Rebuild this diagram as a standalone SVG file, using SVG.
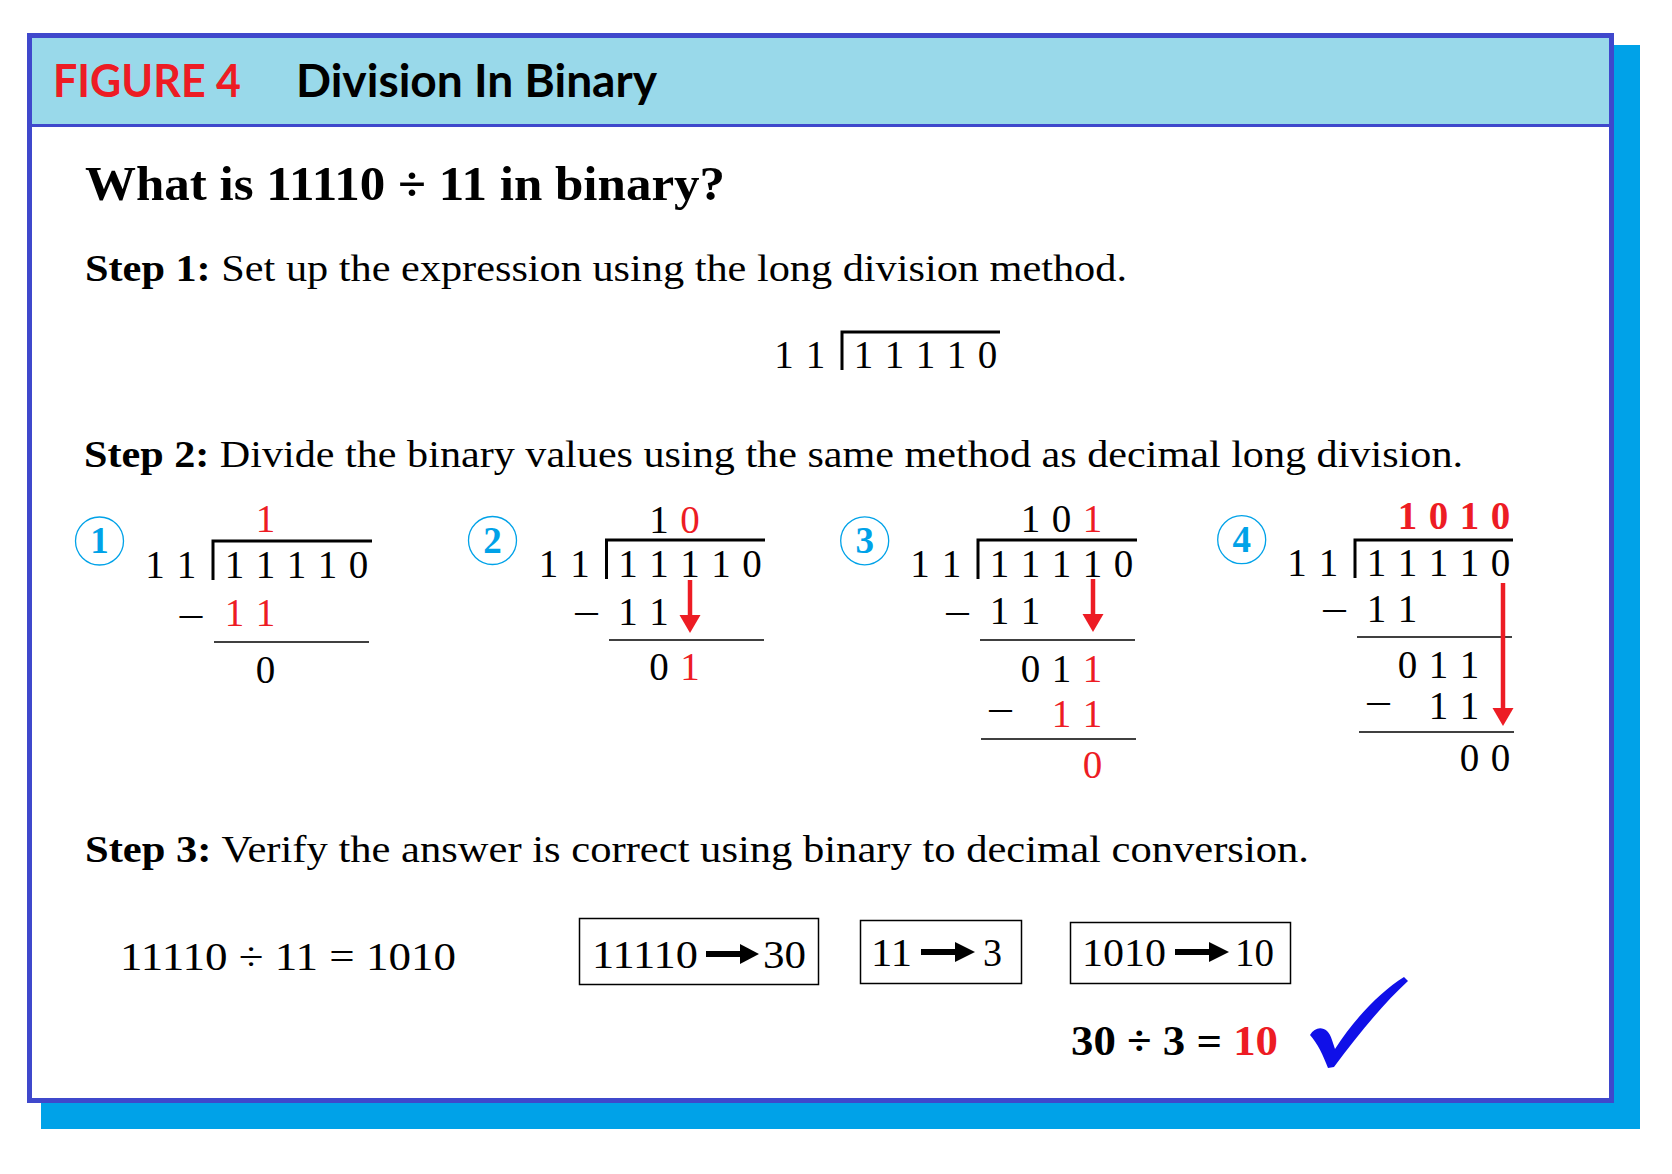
<svg xmlns="http://www.w3.org/2000/svg" width="1672" height="1174" viewBox="0 0 1672 1174">
<defs>
<style>
.s{font-family:'Liberation Serif','Times New Roman',serif;}
.h{font-family:Lato,'Liberation Sans',Arial,sans-serif;font-weight:bold;}
.d{font-family:'Liberation Serif','Times New Roman',serif;font-size:39px;text-anchor:middle;fill:#000;}
.m{font-family:'Liberation Serif','Times New Roman',serif;font-size:39px;text-anchor:middle;fill:#000;}
.r{fill:#ED1C24;}
.rb{fill:#ED1C24;font-weight:bold;}
.st{font-family:'Liberation Serif','Times New Roman',serif;font-size:38px;fill:#000;}
.num{font-family:'Liberation Serif','Times New Roman',serif;font-size:37px;font-weight:bold;fill:#00A2E8;text-anchor:middle;}
.circ{fill:none;stroke:#00A2E8;stroke-width:1.3;}
.bar{stroke:#000;stroke-width:3;fill:none;}
.rule{stroke:#000;stroke-width:1.3;fill:none;}
.box{fill:#fff;stroke:#000;stroke-width:1.5;}
.red-shaft{stroke:#ED1C24;stroke-width:4.5;fill:none;}
.red-head{fill:#ED1C24;}
.blk-shaft{stroke:#000;stroke-width:6;fill:none;}
.blk-head{fill:#000;}
</style>
</defs>

<g id="frame">
<rect x="41" y="45" width="1599" height="1084" fill="#00A2E8"/>
<rect x="29.5" y="35.5" width="1582" height="1065" fill="#fff" stroke="#3F48CC" stroke-width="5"/>
<rect x="32" y="38" width="1577" height="86" fill="#99D9EA"/>
<line x1="32" y1="125.5" x2="1609" y2="125.5" stroke="#3F48CC" stroke-width="3"/>
</g>

<g id="header">
<text class="h" x="53" y="97" font-size="46" fill="#ED1C24" textLength="188" lengthAdjust="spacingAndGlyphs">FIGURE 4</text>
<text class="h" x="296" y="97" font-size="46" fill="#000" textLength="361" lengthAdjust="spacingAndGlyphs">Division In Binary</text>
</g>

<g id="question">
<text class="s" x="85" y="200" font-size="48" font-weight="bold" fill="#000" textLength="640" lengthAdjust="spacingAndGlyphs">What is 11110 ÷ 11 in binary?</text>
</g>

<g id="step1">
<text class="st" x="85" y="281" textLength="1042" lengthAdjust="spacingAndGlyphs"><tspan font-weight="bold">Step 1:</tspan> Set up the expression using the long division method.</text>
</g>

<g id="setup">
<text class="d" x="784" y="368">1</text>
<text class="d" x="815.5" y="368">1</text>
<path class="bar" d="M842 370 V332 H1000"/>
<text class="d" x="863.5" y="368">1</text>
<text class="d" x="894.5" y="368">1</text>
<text class="d" x="925.5" y="368">1</text>
<text class="d" x="956.5" y="368">1</text>
<text class="d" x="987.5" y="368">0</text>
</g>

<g id="step2">
<text class="st" x="84" y="467" textLength="1379" lengthAdjust="spacingAndGlyphs"><tspan font-weight="bold">Step 2:</tspan> Divide the binary values using the same method as decimal long division.</text>
</g>

<!-- Panel 1 -->
<g id="panel1">
<circle class="circ" cx="99.5" cy="541" r="24"/>
<text class="num" x="99.5" y="553">1</text>
<text class="d r" x="265.5" y="532">1</text>
<text class="d" x="155" y="578">1</text>
<text class="d" x="186.5" y="578">1</text>
<path class="bar" d="M213 580 V541 H372"/>
<text class="d" x="234.5" y="578">1</text>
<text class="d" x="265.5" y="578">1</text>
<text class="d" x="296.5" y="578">1</text>
<text class="d" x="327.5" y="578">1</text>
<text class="d" x="358.5" y="578">0</text>
<text class="m" x="191" y="630" textLength="28" lengthAdjust="spacingAndGlyphs">−</text>
<text class="d r" x="234.5" y="626">1</text>
<text class="d r" x="265.5" y="626">1</text>
<line class="rule" x1="214" y1="642" x2="369" y2="642"/>
<text class="d" x="265.5" y="683">0</text>
</g>

<!-- Panel 2 -->
<g id="panel2">
<circle class="circ" cx="492.5" cy="540.5" r="24"/>
<text class="num" x="492.5" y="553">2</text>
<text class="d" x="659" y="533">1</text>
<text class="d r" x="690" y="533">0</text>
<text class="d" x="548.5" y="577">1</text>
<text class="d" x="580" y="577">1</text>
<path class="bar" d="M606.5 579 V540 H765"/>
<text class="d" x="628" y="577">1</text>
<text class="d" x="659" y="577">1</text>
<text class="d" x="690" y="577">1</text>
<text class="d" x="721" y="577">1</text>
<text class="d" x="752" y="577">0</text>
<text class="m" x="586.5" y="627" textLength="28" lengthAdjust="spacingAndGlyphs">−</text>
<text class="d" x="628" y="625">1</text>
<text class="d" x="659" y="625">1</text>
<line class="rule" x1="609" y1="640" x2="764" y2="640"/>
<text class="d" x="659" y="680">0</text>
<text class="d r" x="690" y="680">1</text>
</g>

<!-- Panel 3 -->
<g id="panel3">
<circle class="circ" cx="864.7" cy="540.8" r="24"/>
<text class="num" x="864.7" y="553">3</text>
<text class="d" x="1030.5" y="532">1</text>
<text class="d" x="1061.5" y="532">0</text>
<text class="d r" x="1092.5" y="532">1</text>
<text class="d" x="920" y="577">1</text>
<text class="d" x="951.5" y="577">1</text>
<path class="bar" d="M978 579 V540 H1137"/>
<text class="d" x="999.5" y="577">1</text>
<text class="d" x="1030.5" y="577">1</text>
<text class="d" x="1061.5" y="577">1</text>
<text class="d" x="1092.5" y="577">1</text>
<text class="d" x="1123.5" y="577">0</text>
<text class="m" x="957.5" y="627" textLength="28" lengthAdjust="spacingAndGlyphs">−</text>
<text class="d" x="999.5" y="624">1</text>
<text class="d" x="1030.5" y="624">1</text>
<line class="rule" x1="980" y1="640" x2="1135" y2="640"/>
<text class="d" x="1030.5" y="682">0</text>
<text class="d" x="1061.5" y="682">1</text>
<text class="d r" x="1092.5" y="682">1</text>
<text class="m" x="1000.5" y="724" textLength="28" lengthAdjust="spacingAndGlyphs">−</text>
<text class="d r" x="1061.5" y="727">1</text>
<text class="d r" x="1092.5" y="727">1</text>
<line class="rule" x1="981" y1="739" x2="1136" y2="739"/>
<text class="d r" x="1092.5" y="778">0</text>
</g>

<!-- Panel 4 -->
<g id="panel4">
<circle class="circ" cx="1241.7" cy="539.7" r="24"/>
<text class="num" x="1241.7" y="552">4</text>
<text class="d rb" x="1407.5" y="529">1</text>
<text class="d rb" x="1438.5" y="529">0</text>
<text class="d rb" x="1469.5" y="529">1</text>
<text class="d rb" x="1500.5" y="529">0</text>
<text class="d" x="1297" y="576">1</text>
<text class="d" x="1328.5" y="576">1</text>
<path class="bar" d="M1355 578 V540 H1513"/>
<text class="d" x="1376.5" y="576">1</text>
<text class="d" x="1407.5" y="576">1</text>
<text class="d" x="1438.5" y="576">1</text>
<text class="d" x="1469.5" y="576">1</text>
<text class="d" x="1500.5" y="576">0</text>
<text class="m" x="1334.5" y="624" textLength="28" lengthAdjust="spacingAndGlyphs">−</text>
<text class="d" x="1376.5" y="622">1</text>
<text class="d" x="1407.5" y="622">1</text>
<line class="rule" x1="1357" y1="637" x2="1512" y2="637"/>
<text class="d" x="1407.5" y="678">0</text>
<text class="d" x="1438.5" y="678">1</text>
<text class="d" x="1469.5" y="678">1</text>
<text class="m" x="1378.5" y="717" textLength="28" lengthAdjust="spacingAndGlyphs">−</text>
<text class="d" x="1438.5" y="719">1</text>
<text class="d" x="1469.5" y="719">1</text>
<line class="rule" x1="1359" y1="732" x2="1514" y2="732"/>
<text class="d" x="1469.5" y="771">0</text>
<text class="d" x="1500.5" y="771">0</text>
</g>

<g id="step3">
<text class="st" x="85" y="862" textLength="1224" lengthAdjust="spacingAndGlyphs"><tspan font-weight="bold">Step 3:</tspan> Verify the answer is correct using binary to decimal conversion.</text>
</g>

<g id="equation">
<text class="s" x="120" y="970" font-size="40" fill="#000" textLength="336" lengthAdjust="spacingAndGlyphs">11110 ÷ 11 = 1010</text>
</g>

<g id="box1">
<rect class="box" x="579.5" y="918.5" width="239" height="66"/>
<text class="s" x="592" y="968" font-size="40" textLength="106" lengthAdjust="spacingAndGlyphs">11110</text>
<text class="s" x="763" y="968" font-size="40" textLength="43" lengthAdjust="spacingAndGlyphs">30</text>
</g>

<g id="box2">
<rect class="box" x="860.5" y="920.5" width="161" height="63"/>
<text class="s" x="871" y="966" font-size="40" textLength="41" lengthAdjust="spacingAndGlyphs">11</text>
<text class="s" x="983" y="966" font-size="40" textLength="19" lengthAdjust="spacingAndGlyphs">3</text>
</g>

<g id="box3">
<rect class="box" x="1070.5" y="922.5" width="220" height="61"/>
<text class="s" x="1082" y="966" font-size="40" textLength="84" lengthAdjust="spacingAndGlyphs">1010</text>
<text class="s" x="1235" y="966" font-size="40" textLength="39" lengthAdjust="spacingAndGlyphs">10</text>
</g>

<g id="result">
<text class="s" x="1071" y="1055" font-size="43" font-weight="bold" fill="#000" textLength="207" lengthAdjust="spacingAndGlyphs">30 ÷ 3 = <tspan fill="#ED1C24">10</tspan></text>
</g>

<g id="check">
<path d="M1310 1035 C1316 1025 1328 1026 1332 1040 L1335 1049 C1355 1018 1380 992 1404 977 L1408 981 C1385 1002 1360 1032 1334 1067 L1328 1068 C1323 1055 1318 1044 1310 1035 Z" fill="#1010E8"/>
</g>

<g id="connectors">
<line class="red-shaft" x1="690" y1="580" x2="690" y2="617"/>
<polygon class="red-head" points="679.5,615 700.5,615 690,633"/>
<line class="red-shaft" x1="1093" y1="579" x2="1093" y2="616"/>
<polygon class="red-head" points="1082.5,614 1103.5,614 1093,632"/>
<line class="red-shaft" x1="1503" y1="583" x2="1503" y2="710"/>
<polygon class="red-head" points="1492.5,708 1513.5,708 1503,726"/>
<line class="blk-shaft" x1="706" y1="954" x2="742" y2="954"/>
<polygon class="blk-head" points="740,944 759,954 740,964"/>
<line class="blk-shaft" x1="921" y1="952" x2="957" y2="952"/>
<polygon class="blk-head" points="955,942 975,952 955,962"/>
<line class="blk-shaft" x1="1175" y1="952" x2="1211" y2="952"/>
<polygon class="blk-head" points="1209,942 1229,952 1209,962"/>
</g>
</svg>
